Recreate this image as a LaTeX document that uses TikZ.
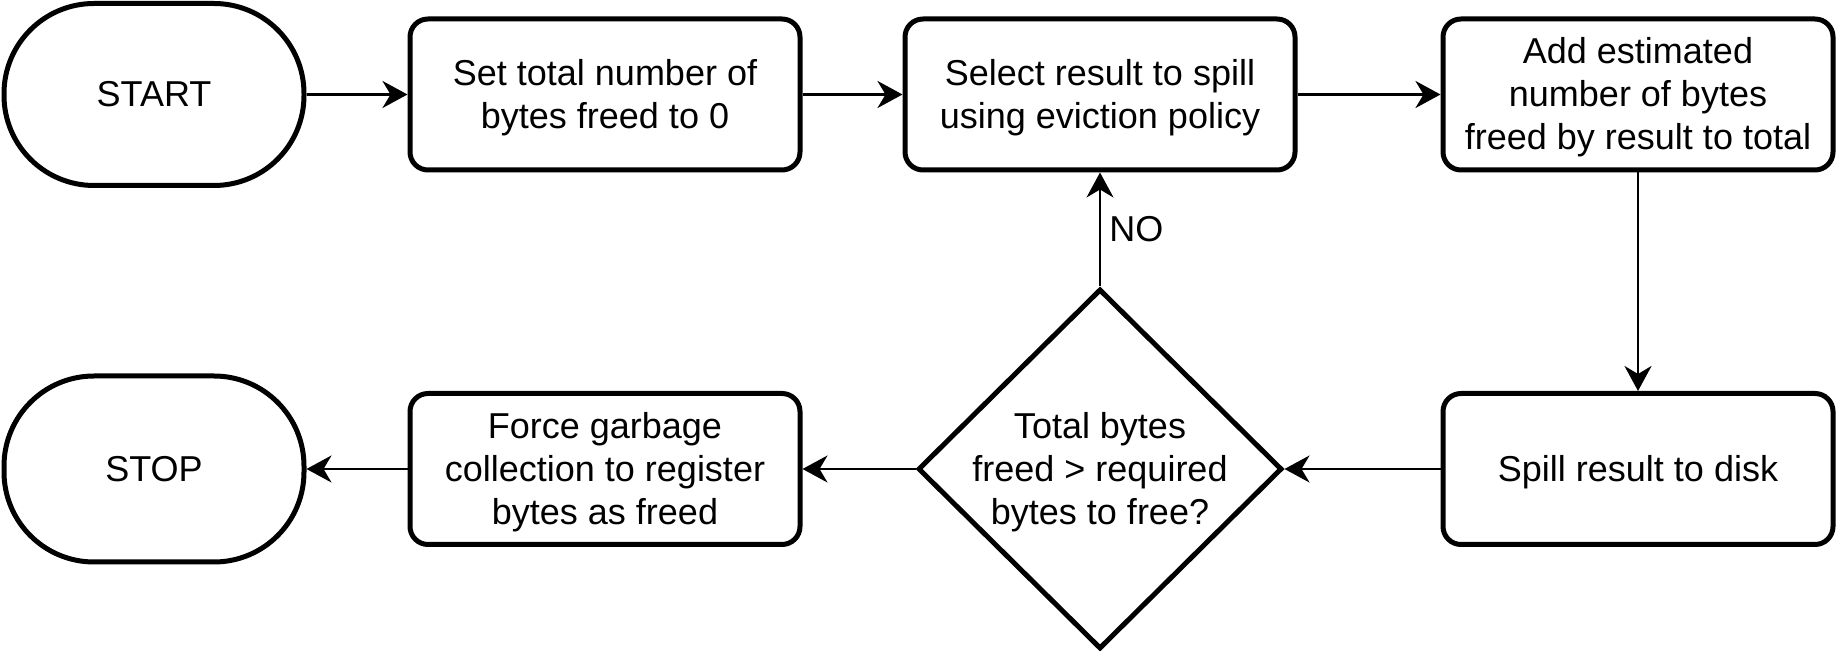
\documentclass[tikz,border=0pt]{standalone}
\usepackage{fontspec}
\setmainfont{Liberation Sans}
\usetikzlibrary{shapes.geometric,arrows.meta}
\newcommand{\ls}{\rule[-4.5pt]{0pt}{21.5pt}}
\begin{document}
\begin{tikzpicture}[x=0.5pt,y=-0.5pt,
  every node/.style={font=\fontsize{18}{21.5}\selectfont, align=center, inner sep=0pt},
  term/.style={draw, line width=2.5pt, rounded corners=45pt, minimum width=150pt, minimum height=91pt},
  proc/.style={draw, line width=2.5pt, rounded corners=9pt, minimum width=195pt, minimum height=75.5pt},
  dec/.style={draw, diamond, line width=2.5pt, minimum width=182pt, minimum height=180pt},
  conn/.style={line width=1.35pt, -{Stealth[length=12.5pt,width=13.5pt,inset=4pt]}}
]
\useasboundingbox (0,0) rectangle (1836,651);
\node[term] (start) at (154,94.5) {\ls START\ls};
\node[proc] (b1) at (605,94.5) {\ls Set total number of\\bytes freed to 0\ls};
\node[proc] (b2) at (1100,94.5) {\ls Select result to spill\\using eviction policy\ls};
\node[proc] (b3) at (1638,94.5) {\ls Add estimated\\number of bytes\\freed by result to total\ls};
\node[proc] (spill) at (1638,469) {\ls Spill result to disk\ls};
\node[dec, label={center:{\ls Total bytes\\freed > required\\bytes to free?\ls}}] (dec) at (1100,469) {};
\node[proc] (force) at (605,469) {\ls Force garbage\\collection to register\\bytes as freed\ls};
\node[term, minimum height=93pt] (stop) at (154,469) {\ls STOP\ls};

\draw[conn] (start.east) -- (b1.west);
\draw[conn] (b1.east) -- (b2.west);
\draw[conn] (b2.east) -- (b3.west);
\draw[conn] (b3.south) -- (spill.north);
\draw[conn] (spill.west) -- (dec.east);
\draw[conn] (dec.west) -- (force.east);
\draw[conn] (force.west) -- (stop.east);
\draw[conn] (dec.north) -- node[right=4pt] (no) {\ls NO\ls} (b2.south);
\end{tikzpicture}
\end{document}
